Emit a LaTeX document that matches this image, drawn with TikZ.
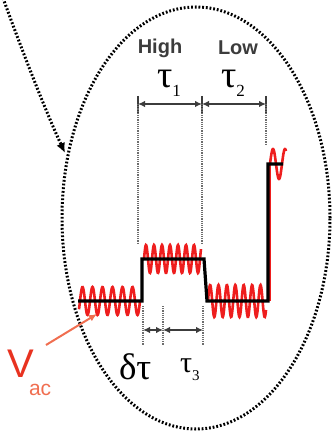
\documentclass[tikz,border=0pt]{standalone}
\usepackage{fontspec}
\setmainfont{Liberation Serif}
\setsansfont{Liberation Sans}
\usetikzlibrary{arrows.meta}
\definecolor{sigred}{RGB}{238,30,30}
\definecolor{vred}{RGB}{232,50,32}
\definecolor{vredlight}{RGB}{240,110,80}
\definecolor{dimgray}{RGB}{60,60,60}
\begin{document}
\begin{tikzpicture}[x=1pt,y=-1pt,
  dotline/.style={line width=3pt, dash pattern=on 1.8pt off 1.9pt},
  guide/.style={dimgray!75, line width=1.8pt, dash pattern=on 1.2pt off 1pt},
  tick/.style={dimgray, line width=1.5pt},
  dimarrow/.style={dimgray, line width=2.2pt, {Latex[length=7pt,width=6.5pt]}-{Latex[length=7pt,width=6.5pt]}},
  sig/.style={black, line width=3.2pt, line join=miter},
  wave/.style={sigred, line width=2.6pt},
  lbl/.style={inner sep=0pt, outer sep=0pt}]
\useasboundingbox (0,0) rectangle (334,435);
% enclosing ellipse
\draw[dotline] (196,218) ellipse [x radius=134pt, y radius=211pt];
% incoming curved arrow
\coordinate (cstart) at (3,-2);
\coordinate (ctip) at (65,153);
\draw[dotline, -{Latex[length=10pt,width=9pt]}] (cstart) .. controls (20,45) and (45,110) .. (ctip);
% upper dimension
\coordinate (u1) at (138,104);
\coordinate (u2) at (202,104);
\coordinate (u3) at (266,104);
\foreach \c in {u1,u2,u3} \draw[tick] ([yshift=8pt]\c) -- ([yshift=-9pt]\c);
\draw[guide] (u1) -- ++(0,140);
\draw[guide] (u2) -- ++(0,140);
\draw[guide] (u3) -- ++(0,40);
\draw[dimarrow] (u1) -- (u2);
\draw[dimarrow] (u2) -- (u3);
% lower dimension
\coordinate (l1) at (143,330);
\coordinate (l2) at (163,330);
\coordinate (l3) at (203,330);
\foreach \c in {l1,l2,l3} \draw[guide] ([yshift=24pt]\c) -- ([yshift=-15pt]\c);
\draw[dimarrow] (l1) -- (l2);
\draw[dimarrow] (l2) -- (l3);
% noisy red signal
\draw[wave] plot[domain=79:140, samples=150, smooth] (\x,{301-14*sin(36*(\x-80))});
\draw[wave] plot[domain=144:201, samples=150, smooth] (\x,{259-14*sin(45*(\x-144))});
\draw[wave] plot[domain=208:266, samples=150, smooth] (\x,{301-16*sin(42.86*(\x-208))});
\draw[wave] (270,301) -- (270,164);
\draw[wave] plot[domain=270:286, samples=60, smooth] (\x,{164-15*sin(30*(\x-270))});
% clean black signal
\draw[sig] (78,301) -- (142,301) -- (142,259) -- (204,259) -- (207,301) -- (268,301) -- (268,164) -- (283,164);
% labels
\node[lbl, text=dimgray, font=\sffamily\bfseries\fontsize{20}{20}\selectfont] (high) at (160,48) {High};
\node[lbl, text=dimgray, font=\sffamily\bfseries\fontsize{20}{20}\selectfont] (low) at (238,48) {Low};
\node[lbl, anchor=base west, text height=18pt, text depth=0pt] (t1) at (157,88) {\fontsize{38}{38}\selectfont τ\raisebox{-9pt}{\fontsize{17}{17}\selectfont 1}};
\node[lbl, anchor=base west, text height=18pt, text depth=0pt] (t2) at (221,88) {\fontsize{38}{38}\selectfont τ\raisebox{-9pt}{\fontsize{17}{17}\selectfont 2}};
\node[lbl, anchor=base west] (dt) at (119,379) {\fontsize{37}{37}\selectfont δτ};
\node[lbl, anchor=base west, text height=14pt, text depth=0pt] (t3) at (180,372) {\fontsize{30}{30}\selectfont τ\raisebox{-8pt}{\fontsize{15}{15}\selectfont 3}};
% V_ac label
\node[lbl, anchor=base west, text=vred, font=\sffamily\fontsize{40}{40}\selectfont, text depth=0pt] (vlbl) at (7,377) {V};
\node[lbl, anchor=base west, text=vredlight, font=\sffamily\fontsize{21}{21}\selectfont, text height=11pt, text depth=0pt] (vsub) at (29,395) {ac};
\coordinate (vfrom) at (46,345);
\coordinate (vto) at (97,314);
\draw[vredlight, line width=2pt, -{Latex[length=8pt,width=7pt]}] (vfrom) -- (vto);
\end{tikzpicture}
\end{document}
